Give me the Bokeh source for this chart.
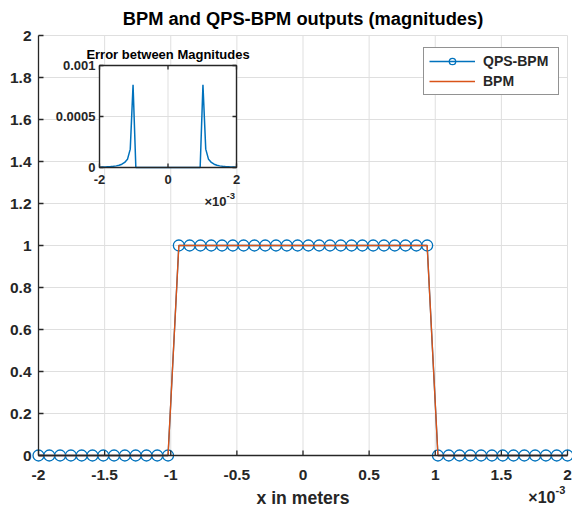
import math
from bokeh.plotting import figure
from bokeh.models import Range1d, ColumnDataSource, Legend, LegendItem
from bokeh.embed import file_html
from bokeh.resources import INLINE
from bokeh.core.properties import value

# ---------------- data (x in units of 1e-3 m) ----------------
x_mm = [-2.0, -1.9184, -1.8367, -1.7551, -1.6735, -1.5918, -1.5102, -1.4286, -1.3469, -1.2653,
        -1.1837, -1.1020, -1.0204, -0.9388, -0.8571, -0.7755, -0.6939, -0.6122, -0.5306, -0.4490,
        -0.3673, -0.2857, -0.2041, -0.1224, -0.0408, 0.0408, 0.1224, 0.2041, 0.2857, 0.3673,
        0.4490, 0.5306, 0.6122, 0.6939, 0.7755, 0.8571, 0.9388, 1.0204, 1.1020, 1.1837,
        1.2653, 1.3469, 1.4286, 1.5102, 1.5918, 1.6735, 1.7551, 1.8367, 1.9184, 2.0]
qps_bpm = [0, 0, 0, 0, 0, 0, 0, 0, 0, 0, 0, 0, 0,
           1, 1, 1, 1, 1, 1, 1, 1, 1, 1, 1, 1, 1, 1, 1, 1, 1, 1, 1, 1, 1, 1, 1, 1,
           0, 0, 0, 0, 0, 0, 0, 0, 0, 0, 0, 0, 0]
bpm = [0, 0, 0, 0, 0, 0, 0, 0, 0, 0, 0, 0, 0,
       1, 1, 1, 1, 1, 1, 1, 1, 1, 1, 1, 1, 1, 1, 1, 1, 1, 1, 1, 1, 1, 1, 1, 1,
       0, 0, 0, 0, 0, 0, 0, 0, 0, 0, 0, 0, 0]
error_mag = [0.000003, 0.000004, 0.000005, 0.000007, 0.000009, 0.000012, 0.000016, 0.000022,
             0.000032, 0.00005, 0.00008, 0.00018, 0.00081,
             0, 0, 0, 0, 0, 0, 0, 0, 0, 0, 0, 0, 0, 0, 0, 0, 0, 0, 0, 0, 0, 0, 0, 0,
             0.00081, 0.00018, 0.00008, 0.00005, 0.000032, 0.000022, 0.000016, 0.000012,
             0.000009, 0.000007, 0.000005, 0.000004, 0.000003]

xticks = [-2, -1.5, -1, -0.5, 0, 0.5, 1, 1.5, 2]
xtick_labels = ["-2", "-1.5", "-1", "-0.5", "0", "0.5", "1", "1.5", "2"]
yticks = [0, 0.2, 0.4, 0.6, 0.8, 1, 1.2, 1.4, 1.6, 1.8, 2]
ytick_labels = ["0", "0.2", "0.4", "0.6", "0.8", "1", "1.2", "1.4", "1.6", "1.8", "2"]
inset_xticks = [-2, 0, 2]
inset_xtick_labels = ["-2", "0", "2"]
inset_yticks = [0, 0.0005, 0.001]
inset_ytick_labels = ["0", "0.0005", "0.001"]

title_text = "BPM and QPS-BPM outputs (magnitudes)"
xlabel_text = "x in meters"
inset_title_text = "Error between Magnitudes"
exp_base, exp_power = "\u00d710", "-3"
series_names = ["QPS-BPM", "BPM"]

# ---------------- styling / geometry (canvas pixels) ----------------
BLUE = "#0072BD"
ORANGE = "#D95319"
DARK = "#262626"
GRID = "#dfdfdf"
FONT = "Liberation Sans"
W, H = 572, 508
AL, AR, AT, AB = 38, 567, 35, 455          # main axes box
IL, IR, IT, IB = 99, 236, 65, 167          # inset axes box

xmin, xmax = xticks[0], xticks[-1]
ymin, ymax = yticks[0], yticks[-1]
px_x = (xmax - xmin) / (AR - AL)
px_y = (ymax - ymin) / (AB - AT)

p = figure(width=W, height=H,
           x_range=Range1d(xmin - AL * px_x, xmax + (W - AR) * px_x),
           y_range=Range1d(ymin - (H - AB) * px_y, ymax + AT * px_y),
           output_backend="svg", toolbar_location=None, min_border=0)
p.axis.visible = False
p.grid.visible = False
p.outline_line_color = None
p.background_fill_color = "white"
p.border_fill_color = "white"

nx, ny = len(xticks), len(yticks)
# grid
p.segment(x0=xticks, y0=[ymin] * nx, x1=xticks, y1=[ymax] * nx, line_color=GRID, line_width=1)
p.segment(x0=[xmin] * ny, y0=yticks, x1=[xmax] * ny, y1=yticks, line_color=GRID, line_width=1)

# ---------------- main series ----------------
src = ColumnDataSource(dict(x=x_mm, q=qps_bpm, b=bpm))
l_q = p.line("x", "q", source=src, line_color=BLUE, line_width=1.3)
s_q = p.scatter("x", "q", source=src, marker="circle", size=11, line_color=BLUE,
                line_width=1.3, fill_color=None)
l_b = p.line("x", "b", source=src, line_color=ORANGE, line_width=1.4)

# axes lines and inward ticks
p.segment(x0=[xmin, xmin], y0=[ymin, ymin], x1=[xmin, xmax], y1=[ymax, ymin],
          line_color=DARK, line_width=1.3)
p.ray(x=xticks, y=[ymin] * nx, length=5, angle=math.pi / 2, length_units="screen",
      line_color=DARK, line_width=1.3)
p.ray(x=[xmin] * ny, y=yticks, length=5, angle=0, length_units="screen",
      line_color=DARK, line_width=1.3)

bold = dict(text_font=value(FONT), text_font_style="bold", text_color=DARK)
p.text(x=xticks, y=[ymin] * nx, text=xtick_labels, text_align="center", text_baseline="middle",
       y_offset=19, text_font_size="15.5px", **bold)
p.text(x=[xmin] * ny, y=yticks, text=ytick_labels, text_align="right", text_baseline="middle",
       x_offset=-7, text_font_size="15.5px", **bold)
p.text(x=[(xmin + xmax) / 2], y=[ymax], text=[title_text], text_align="center",
       text_baseline="middle", y_offset=-17, text_font_size="18.3px",
       text_font=value(FONT), text_font_style="bold", text_color="black")
p.text(x=[(xmin + xmax) / 2], y=[ymin], text=[xlabel_text], text_align="center",
       text_baseline="middle", y_offset=42, text_font_size="17.6px", **bold)
p.text(x=[xmax], y=[ymin], text=[exp_base], text_align="right", text_baseline="middle",
       x_offset=-12, y_offset=42, text_font_size="16px", **bold)
p.text(x=[xmax], y=[ymin], text=[exp_power], text_align="left", text_baseline="middle",
       x_offset=-12, y_offset=34, text_font_size="11px", **bold)

# ---------------- legend ----------------
legend = Legend(items=[LegendItem(label=series_names[0], renderers=[l_q, s_q]),
                       LegendItem(label=series_names[1], renderers=[l_b])],
                location=(423, H - 95), margin=0, padding=5, spacing=4,
                glyph_width=46, glyph_height=16, label_height=16, label_width=70,
                label_standoff=8, label_text_font=FONT, label_text_font_style="bold",
                label_text_font_size="14px", label_text_color=DARK,
                border_line_color=DARK, border_line_width=1,
                background_fill_color="white", background_fill_alpha=1)
p.add_layout(legend)

# ---------------- inset axes (drawn through extra ranges) ----------------
ixmin, ixmax = inset_xticks[0], inset_xticks[-1]
iymin, iymax = inset_yticks[0], inset_yticks[-1]
ipx_x = (ixmax - ixmin) / (IR - IL)
ipx_y = (iymax - iymin) / (IB - IT)
p.extra_x_ranges = {"ix": Range1d(ixmin - IL * ipx_x, ixmax + (W - IR) * ipx_x)}
p.extra_y_ranges = {"iy": Range1d(iymin - (H - IB) * ipx_y, iymax + IT * ipx_y)}
kw = dict(x_range_name="ix", y_range_name="iy")
n_x, n_y = len(inset_xticks), len(inset_yticks)

p.quad(left=[ixmin], right=[ixmax], bottom=[iymin], top=[iymax],
       fill_color="white", line_color=None, **kw)
p.segment(x0=inset_xticks, y0=[iymin] * n_x, x1=inset_xticks, y1=[iymax] * n_x,
          line_color=GRID, line_width=1, **kw)
p.segment(x0=[ixmin] * n_y, y0=inset_yticks, x1=[ixmax] * n_y, y1=inset_yticks,
          line_color=GRID, line_width=1, **kw)
p.line(x_mm, error_mag, line_color=BLUE, line_width=1.5, **kw)
p.quad(left=[ixmin], right=[ixmax], bottom=[iymin], top=[iymax],
       fill_color=None, line_color=DARK, line_width=1.4, **kw)
p.ray(x=inset_xticks, y=[iymin] * n_x, length=4, angle=math.pi / 2, length_units="screen",
      line_color=DARK, line_width=1.3, **kw)
p.ray(x=inset_xticks, y=[iymax] * n_x, length=4, angle=-math.pi / 2, length_units="screen",
      line_color=DARK, line_width=1.3, **kw)
p.ray(x=[ixmin] * n_y, y=inset_yticks, length=4, angle=0, length_units="screen",
      line_color=DARK, line_width=1.3, **kw)
p.ray(x=[ixmax] * n_y, y=inset_yticks, length=4, angle=math.pi, length_units="screen",
      line_color=DARK, line_width=1.3, **kw)

p.text(x=inset_xticks, y=[iymin] * n_x, text=inset_xtick_labels, text_align="center",
       text_baseline="middle", y_offset=12, text_font_size="13px", **bold, **kw)
p.text(x=[ixmin] * n_y, y=inset_yticks, text=inset_ytick_labels, text_align="right",
       text_baseline="middle", x_offset=-4, text_font_size="13px", **bold, **kw)
p.text(x=[(ixmin + ixmax) / 2], y=[iymax], text=[inset_title_text], text_align="center",
       text_baseline="middle", y_offset=-11, text_font_size="13px",
       text_font=value(FONT), text_font_style="bold", text_color="black", **kw)
p.text(x=[ixmax], y=[iymin], text=[exp_base], text_align="right", text_baseline="middle",
       x_offset=-10, y_offset=34, text_font_size="13px", **bold, **kw)
p.text(x=[ixmax], y=[iymin], text=[exp_power], text_align="left", text_baseline="middle",
       x_offset=-10, y_offset=28, text_font_size="9.5px", **bold, **kw)

open("out.html", "w").write(file_html(p, INLINE))
